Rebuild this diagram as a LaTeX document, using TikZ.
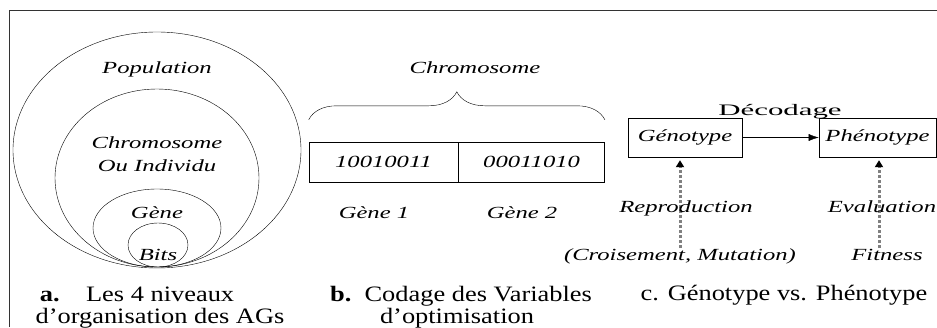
\documentclass[tikz,border=0pt]{standalone}
\usepackage{fontspec}
\setmainfont{Liberation Serif}
\usetikzlibrary{arrows.meta,decorations.pathreplacing,positioning}

\tikzset{
	lbl/.style={font=\fontsize{17}{20}\selectfont\itshape, xscale=1.45, inner sep=0pt, anchor=base},
	capt/.style={font=\fontsize{22}{26}\selectfont, xscale=1.2, inner sep=0pt, anchor=base},
	cell/.style={draw, font=\fontsize{17}{20}\selectfont\itshape, xscale=1.45, minimum height=40pt, inner sep=0pt},
	dotarrow/.style={draw=black!50, line width=3pt, dash pattern=on 3pt off 2pt, -{Triangle[length=7pt,width=8pt,color=black]}},
}

\begin{document}
\begin{tikzpicture}[x=1pt,y=-1pt]
		\useasboundingbox (0,0) rectangle (937,327);
		\draw[black!80] (9,327) -- (9,10) -- (937,10);

		\draw (157,150) ellipse (144 and 118);
		\draw (157,178) ellipse (102 and 89);
		\draw (157,228) ellipse (64 and 39);
		\draw (158,245) ellipse (30 and 22);
		\node[lbl] (pop) at (157,73) {Population};
		\node[lbl] (chr) at (157,148) {Chromosome};
		\node[lbl] (ind) at (157,171) {Ou Individu};
		\node[lbl] (gene) at (157,218) {Gène};
		\node[lbl] (bits) at (158,260) {Bits};
		\node[capt] (capa) at (137,301) {\textbf{a.}\quad Les 4 niveaux};
		\node[capt] (capaa) at (160,323) {d’organisation des AGs};

		\node[cell, minimum width=102.8pt] (g1) at (383.5,162) {10010011};
		\node[cell, minimum width=100.7pt, right=0pt of g1] (g2) {00011010};
		\draw[decorate, decoration={brace, amplitude=28pt, raise=22pt}] (g1.north west) -- (g2.north east);
		\node[lbl] (chrom) at (475,73) {Chromosome};
		\node[lbl] (gun) at (374,218) {Gène 1};
		\node[lbl] (gdeux) at (522,218) {Gène 2};
		\node[capt] (capb) at (461,301) {\textbf{b.}\ \ Codage des Variables};
		\node[capt] (capbb) at (457,323) {d’optimisation};

		\node[cell, minimum width=78.6pt, minimum height=39pt] (geno) at (685,137.5) {Génotype};
		\node[cell, minimum width=80.7pt, minimum height=39pt] (pheno) at (877.5,137.5) {Phénotype};
		\draw[-{Latex[length=10pt,width=7pt]}] (geno) -- (pheno);
		\node[lbl, font=\fontsize{16}{19}\selectfont, xscale=1.33] (dec) at (780,115) {Décodage};

		\coordinate (repro) at (680,248);
		\coordinate (eval) at (879,248);
		\draw[dotarrow] (repro) -- ([yshift=-3pt]repro |- geno.south);
		\draw[dotarrow] (eval) -- ([yshift=-3pt]eval |- pheno.south);
		\node[lbl] (rep) at (686,212) {Reproduction};
		\node[lbl] (crois) at (680,260) {(Croisement, Mutation)};
		\node[lbl] (eva) at (882,212) {Evaluation};
		\node[lbl] (fit) at (887,260) {Fitness};
		\node[capt] (capc) at (784,300) {c. Génotype vs. Phénotype};
	\end{tikzpicture}
\end{document}
